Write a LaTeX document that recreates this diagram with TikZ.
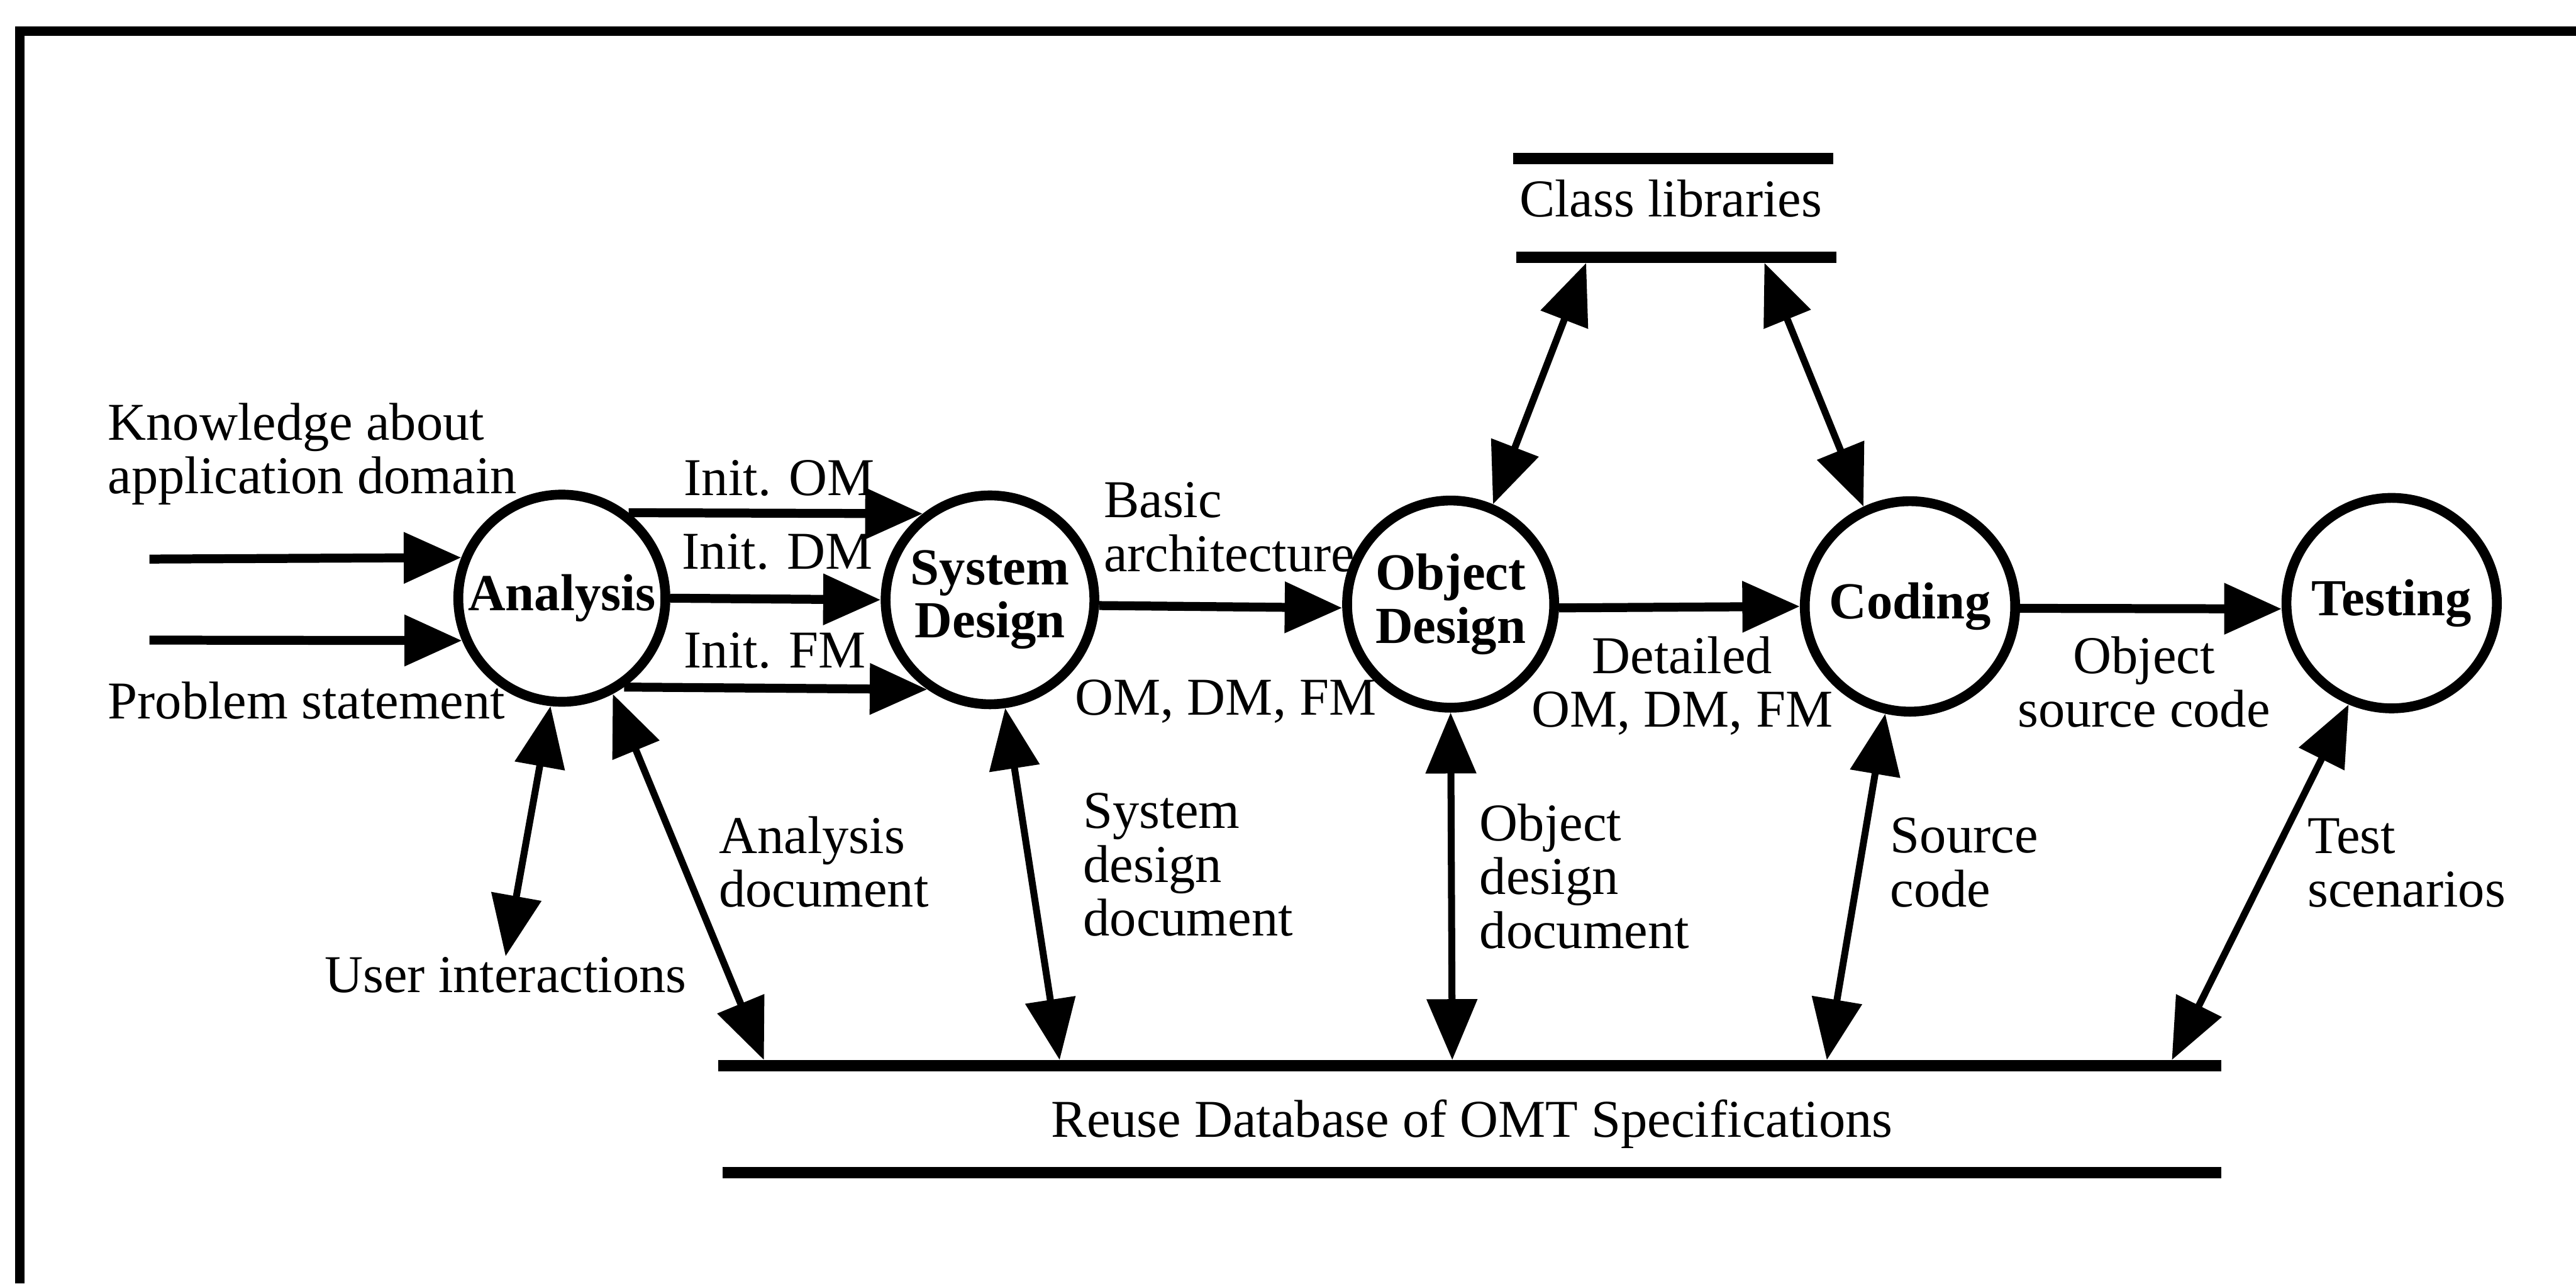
\documentclass[tikz,border=0pt]{standalone}
\usepackage{fontspec}
\setmainfont{Liberation Serif}
\usetikzlibrary{arrows.meta}
\begin{document}
\begin{tikzpicture}[x=0.01cm, y=-0.01cm,
  proc/.style={circle, draw, line width=1.7pt, minimum size=1.27cm, inner sep=0pt,
    align=center, font=\bfseries\fontsize{9}{9.2}\selectfont},
  lbl/.style={inner sep=0pt, align=left, anchor=base west,
    font=\fontsize{9.2}{9.3}\selectfont},
  flow/.style={line width=1.55pt, -{Triangle[length=3.5mm,width=3mm]}},
  link/.style={line width=1.2pt,
    {Triangle[length=3.7mm,width=3mm]}-{Triangle[length=3.7mm,width=3mm]}},
  bar/.style={line width=2pt},
  frame/.style={line width=1.7pt}]

\useasboundingbox (0,0) rectangle (1568,781);

% outer frame (top and left edges)
\draw[frame] (12,781) -- (12,19) -- (1568,19);

% process bubbles
\node[proc, minimum size=1.26cm] (ana) at (342,364) {Analysis};
\node[proc] (sd)  at (602.6,365) {System\\Design};
\node[proc, minimum size=1.26cm] (od)  at (883,367.6) {Object\\Design};
\node[proc, minimum size=1.28cm] (cod) at (1162.6,369) {Coding};
\node[proc, minimum size=1.28cm] (tst) at (1455.8,367) {Testing};

% data store: class libraries
\node[lbl, anchor=base] (cl) at (1017,131.8) {Class libraries};
\draw[bar] (921,96.5) -- (1116,96.5);
\draw[bar] (923,156.5) -- (1118,156.5);
\coordinate (c1) at (965.5,160);
\coordinate (c2) at (1074,160);

% data store: reuse database
\node[lbl, anchor=base] (db) at (896,692) {Reuse Database of OMT Specifications};
\draw[bar] (437,648.5) -- (1352,648.5);
\draw[bar] (440,713.5) -- (1352,713.5);
\coordinate (d1) at (465,645);
\coordinate (d2) at (645,645);
\coordinate (d3) at (884,645);
\coordinate (d4) at (1112,645);
\coordinate (d5) at (1322,645);

% external inputs
\coordinate (in1) at (91,340.2);
\coordinate (in2) at (91,389.5);

% labels (multi-line ones are placed by the baseline of their last line)
\node[lbl] (k)   at (65,300.3)    {Knowledge about\\application domain};
\node[lbl] (ps)  at (65,437.4)    {Problem statement};
\node[lbl] (ui)  at (197,604)     {User interactions};
\node[lbl] (iom) at (415.7,301.6) {Init. OM};
\node[lbl] (idm) at (414.5,346.4) {Init. DM};
\node[lbl] (ifm) at (415.7,406.2) {Init. FM};
\node[lbl] (ba)  at (671.2,347.7) {Basic\\architecture};
\node[lbl] (sdo) at (653.7,434.9) {OM, DM, FM};
\node[lbl, anchor=base, align=center] (det) at (1024,442.4) {Detailed\\OM, DM, FM};
\node[lbl, anchor=base, align=center] (osc) at (1305,442.4) {Object\\source code};
\node[lbl] (ad)  at (437,552)     {Analysis\\document};
\node[lbl] (sdd) at (658.7,569.5) {System\\design\\document};
\node[lbl] (odd) at (900,576.9)   {Object\\design\\document};
\node[lbl] (sc)  at (1150,551.7)  {Source\\code};
\node[lbl] (ts)  at (1404,552)    {Test\\scenarios};

% main flow
\draw[flow] (in1) -- (ana.158);
\draw[flow] (in2) -- (ana.203);
\draw[flow] (ana.52) -- (sd.128);
\draw[flow] (ana.0) -- (sd.180);
\draw[flow] (ana.-55) -- (sd.-125);
\draw[flow] (sd.-3) -- (od.182);
\draw[flow] (od.-2) -- (cod.180);
\draw[flow] (cod.-1) -- (tst.183);

% two-way exchanges
\draw[link] (ui.north) -- (ana.-96);
\draw[link] (ana.-62) -- (d1);
\draw[link] (sd.-82) -- (d2);
\draw[link] (od.-90) -- (d3);
\draw[link] (cod.-103) -- (d4);
\draw[link] (tst.-113) -- (d5);
\draw[link] (od.67) -- (c1);
\draw[link] (cod.115) -- (c2);
\end{tikzpicture}
\end{document}
